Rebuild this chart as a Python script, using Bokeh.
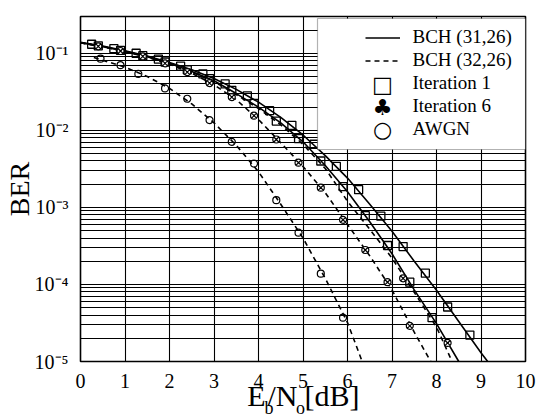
import math
from bokeh.plotting import figure
from bokeh.models import (FixedTicker, Legend, LegendItem, Label, BoxAnnotation, LinearAxis)
from bokeh.embed import file_html
from bokeh.resources import INLINE

# ---------------- data ----------------
# BCH(31,26) curve (solid, right-most)
l1_x = [0.0, 0.5, 1.0, 1.5, 2.0, 2.5, 3.0, 3.5, 4.0, 4.5, 5.0, 5.5, 6.0, 6.5, 7.0, 7.5, 8.0, 8.5, 9.0, 9.15]
l1_y = [0.139, 0.124, 0.108, 0.092, 0.076, 0.061, 0.047, 0.034, 0.0232, 0.0147, 0.0087, 0.0047,
        0.0024, 0.0011, 4.9e-4, 2.0e-4, 8.4e-5, 3.3e-5, 1.3e-5, 1.0e-5]
# second solid curve
l2_x = [0.0, 0.5, 1.0, 1.5, 2.0, 2.5, 3.0, 3.5, 4.0, 4.5, 5.0, 5.5, 6.0, 6.5, 7.0, 7.5, 8.0, 8.5]
l2_y = [0.137, 0.122, 0.106, 0.090, 0.074, 0.058, 0.044, 0.030, 0.020, 0.0125, 0.0071, 0.0035,
        0.0016, 6.5e-4, 2.5e-4, 8.5e-5, 3.1e-5, 1.0e-5]
# dashed curve next to the second solid one
l3_x = [0.0, 0.5, 1.0, 1.5, 2.0, 2.5, 3.0, 3.5, 4.0, 4.5, 5.0, 5.5, 6.0, 6.5, 7.0, 7.5, 8.0, 8.35]
l3_y = [0.137, 0.122, 0.106, 0.090, 0.073, 0.057, 0.043, 0.029, 0.0192, 0.0118, 0.0066, 0.0032,
        0.0012, 5.2e-4, 2.2e-4, 7.9e-5, 2.8e-5, 1.0e-5]
# BCH(32,26) dashed curve
l4_x = [0.0, 0.5, 1.0, 1.5, 2.0, 2.5, 3.0, 3.5, 4.0, 4.5, 5.0, 5.5, 6.0, 6.5, 7.0, 7.5, 7.87]
l4_y = [0.137, 0.121, 0.105, 0.089, 0.072, 0.055, 0.039, 0.025, 0.0138, 0.0069, 0.0034, 0.00155,
        6.0e-4, 2.35e-4, 8.5e-5, 2.4e-5, 1.0e-5]
# AWGN dashed curve
l5_x = [0.3, 1.0, 1.5, 2.0, 2.5, 3.0, 3.5, 4.0, 4.5, 5.0, 5.5, 6.0, 6.33]
l5_y = [0.088, 0.066, 0.050, 0.035, 0.022, 0.0125, 0.0064, 0.0029, 1.1e-3, 4.0e-4, 1.2e-4, 3.2e-5, 1.0e-5]

# Iteration 1 markers (squares)
sq1_x = [0.25, 0.75, 1.25, 1.75, 2.25, 2.75, 3.25, 3.75, 4.25, 4.75, 5.25, 5.75, 6.25, 6.75, 7.25, 7.75, 8.25, 8.75]
sq1_y = [0.131, 0.115, 0.100, 0.084, 0.068, 0.054, 0.040, 0.028, 0.018, 0.0116, 0.0066, 0.0034,
         0.0017, 7.7e-4, 3.1e-4, 1.4e-4, 5.1e-5, 2.2e-5]
sq2_x = [0.4, 0.9, 1.4, 1.9, 2.4, 2.9, 3.4, 3.9, 4.4, 4.9, 5.4, 5.9, 6.4, 6.9, 7.4, 7.9]
sq2_y = [0.125, 0.109, 0.093, 0.077, 0.061, 0.047, 0.033, 0.0224, 0.0132, 0.0078, 0.0040, 0.00186,
         7.8e-4, 3.2e-4, 1.07e-4, 3.7e-5]
# Iteration 6 markers
it6_x = [0.4, 0.9, 1.4, 1.9, 2.4, 2.9, 3.4, 3.9, 4.4, 4.9, 5.4, 5.9, 6.4, 6.9, 7.4, 7.25, 8.25]
it6_y = [0.123, 0.107, 0.091, 0.074, 0.057, 0.041, 0.027, 0.0155, 0.0076, 0.0038, 0.0018, 6.9e-4,
         2.8e-4, 1.07e-4, 2.9e-5, 1.2e-4, 1.74e-5]
# AWGN markers (circles)
aw_x = [0.45, 0.9, 1.3, 1.9, 2.4, 2.9, 3.4, 3.9, 4.4, 4.9, 5.4, 5.9]
aw_y = [0.085, 0.070, 0.054, 0.035, 0.0257, 0.0136, 0.0071, 0.0037, 0.00124, 4.7e-4, 1.38e-4, 3.7e-5]

x_ticks = [0, 1, 2, 3, 4, 5, 6, 7, 8, 9, 10]
y_ticks = [1e-5, 1e-4, 1e-3, 1e-2, 1e-1]
y_tick_labels = ["10⁻⁵", "10⁻⁴", "10⁻³", "10⁻²", "10⁻¹"]
legend_labels = ["BCH (31,26)", "BCH (32,26)", "Iteration 1", "Iteration 6", "AWGN"]
x_title_main = ["E", "/N", "[dB]"]
x_title_sub = ["b", "o"]

# ---------------- layout constants ----------------
x_title_main_at = [3.955, 4.54, 5.65]
x_title_sub_at = [4.236, 4.944]
FB = 359  # expected frame bottom (px from top)

SERIF = "Liberation Serif"
p = figure(width=539, height=420, x_range=(0, 10), y_range=(1e-5, 0.3), y_axis_type="log",
           output_backend="svg", toolbar_location=None,
           min_border_left=80, min_border_right=14, min_border_top=16, min_border_bottom=58)
p.background_fill_color = "white"
p.border_fill_color = "white"
p.outline_line_color = "black"
p.outline_line_width = 1.6

minor = []
for d in range(-5, 0):
    for m in range(2, 10):
        v = m * 10.0 ** d
        if v <= 0.3:
            minor.append(v)

p.xaxis.ticker = FixedTicker(ticks=x_ticks)
p.yaxis.ticker = FixedTicker(ticks=y_ticks, minor_ticks=minor)
p.yaxis.major_label_overrides = {t: s for t, s in zip(y_ticks, y_tick_labels)}

for ax in (p.xaxis, p.yaxis):
    ax.axis_line_color = None
    ax.major_tick_line_color = None
    ax.minor_tick_line_color = None
    ax.major_label_text_font = SERIF
    ax.major_label_text_font_size = "20px"
    ax.major_label_text_color = "black"
p.xaxis.major_label_standoff = 6
p.yaxis.major_label_standoff = 6
p.yaxis.axis_label = "BER"
p.yaxis.axis_label_text_font = SERIF
p.yaxis.axis_label_text_font_size = "28px"
p.yaxis.axis_label_text_font_style = "normal"
p.yaxis.axis_label_text_color = "black"
p.yaxis.axis_label_standoff = -3

# x title as two extra label rows (main text + subscripts)
def title_axis(ticks, labels, size, standoff):
    ax = LinearAxis(ticker=FixedTicker(ticks=ticks),
                    major_label_overrides={t: s for t, s in zip(ticks, labels)})
    ax.axis_line_color = None
    ax.major_tick_line_color = None
    ax.minor_tick_line_color = None
    ax.major_label_text_font = SERIF
    ax.major_label_text_font_size = size
    ax.major_label_text_color = "black"
    ax.major_label_standoff = standoff
    return ax

p.add_layout(title_axis(x_title_main_at, x_title_main, "30px", -18), "below")
p.add_layout(title_axis(x_title_sub_at, x_title_sub, "18px", -23), "below")

p.xgrid.grid_line_color = "black"
p.xgrid.grid_line_width = 1.1
p.ygrid.grid_line_color = "black"
p.ygrid.grid_line_width = 1.1
p.ygrid.minor_grid_line_color = "black"
p.ygrid.minor_grid_line_width = 1.0

LW = 1.6
DASH = "5 4"
r_l1 = p.line(l1_x, l1_y, line_color="black", line_width=LW)
r_l2 = p.line(l2_x, l2_y, line_color="black", line_width=LW)
r_l3 = p.line(l3_x, l3_y, line_color="black", line_width=LW, line_dash=DASH)
r_l4 = p.line(l4_x, l4_y, line_color="black", line_width=LW, line_dash=DASH)
r_l5 = p.line(l5_x, l5_y, line_color="black", line_width=LW, line_dash=DASH)

r_sq1 = p.scatter(sq1_x, sq1_y, marker="square", size=8, line_color="black", line_width=1.3,
                  fill_alpha=0)
r_sq2 = p.scatter(sq2_x, sq2_y, marker="square", size=8, line_color="black", line_width=1.3,
                  fill_alpha=0)
r_it6 = p.scatter(it6_x, it6_y, marker="circle_x", size=7, line_color="black", line_width=1.2,
                  fill_color="white")
r_aw = p.scatter(aw_x, aw_y, marker="circle", size=7, line_color="black", line_width=1.2,
                 fill_alpha=0)
r_dummy = p.scatter([], [], marker="circle", size=7, line_alpha=0, fill_alpha=0)

# legend box (screen units, relative to the plot frame, y measured from its bottom)
box = BoxAnnotation(left=237, right=445, top=FB - 16, bottom=FB - 147,
                    left_units="screen", right_units="screen", top_units="screen", bottom_units="screen",
                    fill_color="white", fill_alpha=1.0, line_color="black", line_width=1.2)
p.add_layout(box)

legend = Legend(items=[LegendItem(label=legend_labels[0], renderers=[r_l1]),
                       LegendItem(label=legend_labels[1], renderers=[r_l4]),
                       LegendItem(label=legend_labels[2], renderers=[r_dummy]),
                       LegendItem(label=legend_labels[3], renderers=[r_dummy]),
                       LegendItem(label=legend_labels[4], renderers=[r_dummy])],
                location=(279.5, FB - 143.5))
legend.border_line_alpha = 0
legend.background_fill_alpha = 0
legend.glyph_width = 35
legend.glyph_height = 23
legend.spacing = 0
legend.padding = 5
legend.margin = 0
legend.label_standoff = 13
legend.label_text_font = SERIF
legend.label_text_font_size = "19px"
legend.label_text_color = "black"
p.add_layout(legend)

for sym, row_y, fs in (("□", 82, "22px"), ("♣", 105, "22px"), ("○", 127, "22px")):
    p.add_layout(Label(x=302, y=FB - row_y, x_units="screen", y_units="screen", text=sym,
                       text_font="DejaVu Sans", text_font_size=fs, text_color="black",
                       text_align="center", text_baseline="middle"))

open("out.html", "w").write(file_html(p, INLINE))
